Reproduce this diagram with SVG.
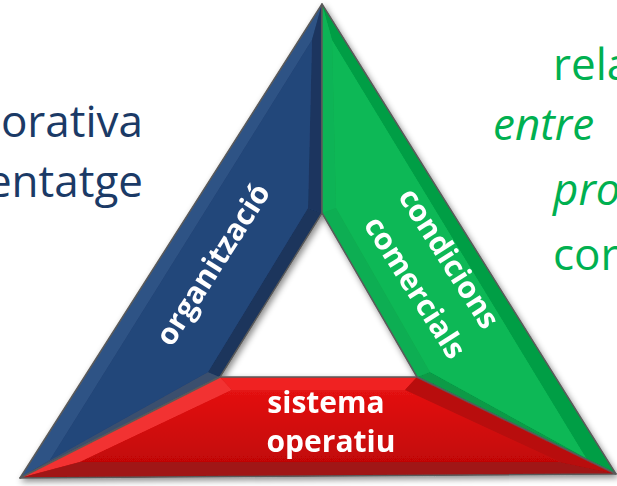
<svg xmlns="http://www.w3.org/2000/svg" width="617" height="486" viewBox="0 0 617 486">
<defs>
<filter id="sh" x="-10%" y="-10%" width="120%" height="120%">
<feDropShadow dx="2" dy="3" stdDeviation="3" flood-color="#000" flood-opacity="0.45"/>
</filter>
<linearGradient id="redFace" x1="0" y1="0" x2="0" y2="1">
<stop offset="0" stop-color="#E41212"/>
<stop offset="1" stop-color="#C20606"/>
</linearGradient>
<style>
.side{font-family:"Open Sans","Noto Sans",sans-serif;font-size:44px}
.navy{fill:#1B3A66}
.green{fill:#00B050}
.lab{font-family:"Open Sans","Noto Sans",sans-serif;font-weight:bold;font-size:30px;fill:#fff;text-anchor:middle}
.edge{fill:none;stroke:#5a5a5a;stroke-width:1.5;stroke-linejoin:round}
</style>
</defs>

<g id="texts-left">
<text class="side navy" x="143" y="137" text-anchor="end">orativa</text>
<text class="side navy" x="143" y="197" text-anchor="end">entatge</text>
</g>
<g id="texts-right">
<text class="side green" x="553" y="80">rela</text>
<text class="side green" x="493" y="140" font-style="italic">entre</text>
<text class="side green" x="553" y="205" font-style="italic">pro</text>
<text class="side green" x="553" y="270">cor</text>
</g>

<g filter="url(#sh)">
<g id="organitzacio">
<polygon points="322,4 20,478 220,377 322,213" fill="#22426F"/>
<polygon points="322,4 20,478 50,460 312,40" fill="#2F5385"/>
<polygon points="20,478 220,377 208,372 50,460" fill="#3B506E"/>
<polygon points="220,377 322,213 308,208 208,372" fill="#1A345C"/>
<polygon points="322,213 322,4 312,40 308,208" fill="#1B365F"/>
<polygon points="312,40 50,460 208,372 308,208" fill="#24467A"/>
<polygon class="edge" points="322,4 20,478 220,377 322,213"/>
<text class="lab" transform="translate(214,265) rotate(-57.5)" x="0" y="9">organització</text>
</g>
<g id="condicions-comercials">
<polygon points="322,4 322,213 417,377 616,474" fill="#08A84C"/>
<polygon points="322,4 616,474 586,458 332,40" fill="#019E45"/>
<polygon points="616,474 417,377 430,372 586,458" fill="#079A47"/>
<polygon points="417,377 322,213 336,208 430,372" fill="#0CAE52"/>
<polygon points="322,213 322,4 332,40 336,208" fill="#10B457"/>
<polygon points="332,40 586,458 430,372 336,208" fill="#0CB856"/>
<polygon class="edge" points="322,4 322,213 417,377 616,474"/>
<text class="lab" transform="translate(448,259) rotate(57.5)" x="0" y="9">condicions</text>
<text class="lab" transform="translate(414,288) rotate(57.5)" x="0" y="9">comercials</text>
</g>
<g id="sistema-operatiu">
<polygon points="220,377 417,377 616,474 20,478" fill="#C80A0A"/>
<polygon points="220,377 417,377 405,390 232,390" fill="#F02424"/>
<polygon points="220,377 232,390 80,462 20,478" fill="#F23030"/>
<polygon points="417,377 616,474 560,462 405,390" fill="#B81010"/>
<polygon points="20,478 80,462 560,462 616,474" fill="#A01414"/>
<polygon points="232,390 405,390 560,462 80,462" fill="url(#redFace)"/>
<polygon class="edge" points="220,377 417,377 616,474 20,478"/>
<text class="lab" x="326" y="413">sistema</text>
<text class="lab" x="331" y="452">operatiu</text>
</g>
</g>
</svg>
